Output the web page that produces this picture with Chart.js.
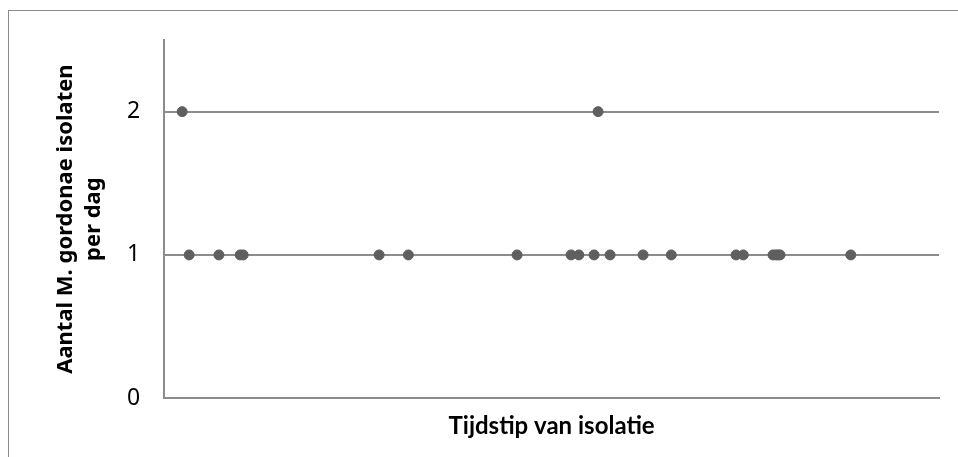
<!DOCTYPE html>
<html>
<head>
<meta charset="utf-8">
<script src="https://cdn.jsdelivr.net/npm/chart.js@4/dist/chart.umd.min.js"></script>
<style>
  html, body { margin: 0; padding: 0; background: #fff; overflow: hidden; }
  #wrap { position: relative; width: 958px; height: 457px; }
  #frame { position: absolute; left: 8px; top: 10px; width: 1000px; height: 500px;
           border-left: 1px solid #8a8a8a; border-top: 1px solid #8a8a8a; }
  canvas { position: absolute; left: 0; top: 0; }
</style>
</head>
<body>
<div id="wrap">
  <div id="frame"></div>
  <canvas id="chart" width="958" height="457"></canvas>
</div>
<script>
// Data (x = day index along the isolation period, y = isolates per day)
const days = [7.2, 10, 21.9, 30.4, 31.6, 86, 97.7, 141.2, 162.8, 165.9, 172, 173.6, 178.4,
              191.6, 202.9, 228.8, 231.7, 243.6, 244.8, 245.6, 246.4, 274.7];
const counts = [2, 1, 1, 1, 1, 1, 1, 1, 1, 1, 1, 2, 1,
                1, 1, 1, 1, 1, 1, 1, 1, 1];
const yTicks = [0, 1, 2];

const points = days.map((d, i) => ({ x: d, y: counts[i] }));
const gridColor = '#8c8c8c';

new Chart(document.getElementById('chart').getContext('2d'), {
  type: 'scatter',
  data: {
    datasets: [{
      data: points,
      backgroundColor: '#5f5f5f',
      borderColor: '#5f5f5f',
      pointRadius: 5,
      pointHoverRadius: 5,
    }],
  },
  options: {
    responsive: false,
    animation: false,
    layout: { padding: { left: 52, right: 19, top: 40, bottom: 16 } },
    plugins: {
      legend: { display: false },
      tooltip: { enabled: false },
    },
    scales: {
      x: {
        type: 'linear',
        min: 0,
        max: 310,
        ticks: { display: false },
        grid: { display: false },
        border: { display: true, color: gridColor, width: 2 },
        title: {
          display: true,
          text: 'Tijdstip van isolatie',
          color: '#000',
          font: { family: 'Lato', size: 24, weight: 'bold' },
          padding: { top: 6, bottom: 0 },
        },
      },
      y: {
        min: 0,
        max: 2.5,
        afterBuildTicks: axis => {
          axis.ticks = yTicks.map(v => ({ value: v }));
        },
        ticks: {
          color: '#000',
          padding: 24,
          font: { family: 'Noto Sans', size: 23 },
        },
        grid: { color: gridColor, lineWidth: 2, drawTicks: false },
        border: { display: true, color: gridColor, width: 2 },
        title: {
          display: true,
          text: ['Aantal M. gordonae isolaten', 'per dag'],
          color: '#000',
          font: { family: 'Noto Sans', size: 22, weight: 'bold', lineHeight: 1.25 },
          padding: { top: 0, bottom: -4 },
        },
      },
    },
  },
});
</script>
</body>
</html>
